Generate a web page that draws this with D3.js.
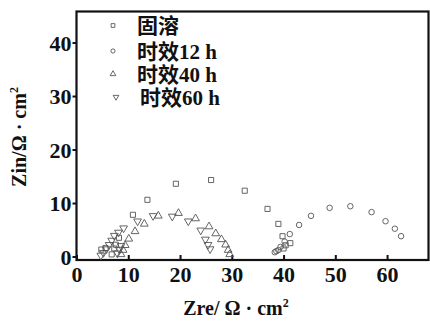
<!DOCTYPE html>
<html>
<head>
<meta charset="utf-8">
<script src="https://cdn.jsdelivr.net/npm/d3@7"></script>
<style>
  html, body { margin: 0; padding: 0; background: #fff; }
  svg text { font-family: "Liberation Serif", "Noto Sans CJK SC", serif; fill: #111; }
</style>
</head>
<body>
<div id="chart"></div>
<script>
// Nyquist data: [Zre, Zin] in ohm·cm2
const solution = [
  [4.8, 1.3], [5.6, 1.6], [6.8, 0.4], [7.3, 1.5], [7.6, 2.2], [8.2, 3.5],
  [10.9, 7.8], [13.7, 10.6], [19.2, 13.6], [26.0, 14.3], [32.5, 12.3],
  [36.9, 8.9], [39.0, 6.1], [39.8, 3.8], [40.0, 1.5], [40.4, 2.1], [41.3, 2.5]
];
const aged12 = [
  [38.3, 0.8], [38.6, 1.0], [39.0, 1.2], [39.4, 1.8], [40.2, 2.8], [41.2, 4.2],
  [43.0, 5.9], [45.3, 7.6], [48.9, 9.1], [52.9, 9.4], [57.0, 8.3],
  [59.7, 6.6], [61.5, 5.2], [62.7, 3.8]
];
const aged40 = [
  [8.6, 0.4], [9.0, 1.2], [9.4, 2.1], [10.1, 3.3], [11.3, 4.7], [13.1, 6.1],
  [15.8, 7.6], [19.7, 8.1], [23.0, 7.1], [25.6, 5.6], [26.9, 4.3],
  [28.0, 3.2], [28.8, 2.2], [29.3, 1.2], [29.6, 0.4]
];
const aged60 = [
  [4.7, 0.2], [5.2, 0.7], [5.8, 1.4], [6.3, 2.2], [6.8, 3.0], [7.3, 3.9],
  [8.1, 4.5], [9.1, 5.3], [7.9, 0.6], [8.3, 1.3], [8.6, 2.0],
  [11.8, 6.6], [14.8, 7.6], [18.5, 7.5], [21.6, 6.6], [24.0, 4.9],
  [24.9, 3.2], [25.4, 2.2], [25.8, 1.4]
];

const seriesNames = ["固溶", "时效12 h", "时效40 h", "时效60 h"];
const xTicks = [0, 10, 20, 30, 40, 50, 60];
const yTicks = [0, 10, 20, 30, 40];

const width = 430, height = 323;
const margin = { left: 76.5, top: 11.5, right: 1.5, bottom: 63 };

const svg = d3.select("#chart").append("svg")
  .attr("width", width)
  .attr("height", height);

const x = d3.scaleLinear().domain([0, 68]).range([margin.left, width - margin.right]);
const y = d3.scaleLinear().domain([-0.65, 45.8]).range([height - margin.bottom, margin.top]);

const series = [
  { name: seriesNames[0], data: solution, shape: d3.symbolSquare, size: 26, rot: 0 },
  { name: seriesNames[1], data: aged12, shape: d3.symbolCircle, size: 24, rot: 0 },
  { name: seriesNames[2], data: aged40, shape: d3.symbolTriangle, size: 26, rot: 0 },
  { name: seriesNames[3], data: aged60, shape: d3.symbolTriangle, size: 26, rot: 180 }
];

// axes
const xAxis = svg.append("g")
  .attr("transform", `translate(0,${height - margin.bottom})`)
  .call(d3.axisBottom(x).tickValues(xTicks).tickSizeInner(-5).tickSizeOuter(0).tickPadding(6));
const yAxis = svg.append("g")
  .attr("transform", `translate(${margin.left},0)`)
  .call(d3.axisLeft(y).tickValues(yTicks).tickSizeInner(4).tickSizeOuter(0).tickPadding(1));

[xAxis, yAxis].forEach(g => {
  g.select(".domain").remove();
  g.selectAll(".tick line").attr("stroke", "#111").attr("stroke-width", 2);
  g.selectAll(".tick text")
    .style("font-family", "'Liberation Serif', serif")
    .style("font-size", "22px")
    .style("font-weight", "bold")
    .style("fill", "#111");
});
xAxis.selectAll(".tick text").attr("dy", "0.71em");
yAxis.selectAll(".tick text").attr("dy", "0.34em");

// frame
svg.append("rect")
  .attr("x", margin.left)
  .attr("y", margin.top)
  .attr("width", width - margin.right - margin.left)
  .attr("height", height - margin.bottom - margin.top)
  .attr("fill", "none")
  .attr("stroke", "#111")
  .attr("stroke-width", 2.2);

// points
const plot = svg.append("g");
series.forEach(s => {
  plot.selectAll(null)
    .data(s.data)
    .enter()
    .append("path")
      .attr("d", d3.symbol().type(s.shape).size(s.size))
      .attr("transform", d => `translate(${x(d[0])},${y(d[1])}) rotate(${s.rot})`)
      .attr("fill", "none")
      .attr("stroke", "#555")
      .attr("stroke-width", 0.9);
});

// legend
const legendRows = [25.5, 51, 74, 97];
const legend = svg.append("g");
series.forEach((s, i) => {
  const shift = i === 3 ? 3 : 0;
  legend.append("path")
    .attr("d", d3.symbol().type(s.shape).size(14))
    .attr("transform", `translate(${113 + shift},${legendRows[i]}) rotate(${s.rot})`)
    .attr("fill", "none")
    .attr("stroke", "#444")
    .attr("stroke-width", 0.8);
  legend.append("text")
    .attr("x", 137 + shift)
    .attr("y", legendRows[i])
    .attr("dy", "0.36em")
    .style("font-size", "21px")
    .style("font-weight", "bold")
    .text(s.name);
});

// axis titles
const xTitle = svg.append("text")
  .attr("x", 236)
  .attr("y", 315)
  .attr("text-anchor", "middle")
  .style("font-size", "20px")
  .style("font-weight", "bold");
xTitle.append("tspan").text("Zre/ Ω  · cm");
xTitle.append("tspan").attr("dy", -8).style("font-size", "12px").text("2");

const yTitle = svg.append("text")
  .attr("transform", "translate(26,137) rotate(-90)")
  .attr("text-anchor", "middle")
  .style("font-size", "20px")
  .style("font-weight", "bold");
yTitle.append("tspan").text("Zin/Ω · cm");
yTitle.append("tspan").attr("dy", -8).style("font-size", "12px").text("2");
</script>
</body>
</html>
